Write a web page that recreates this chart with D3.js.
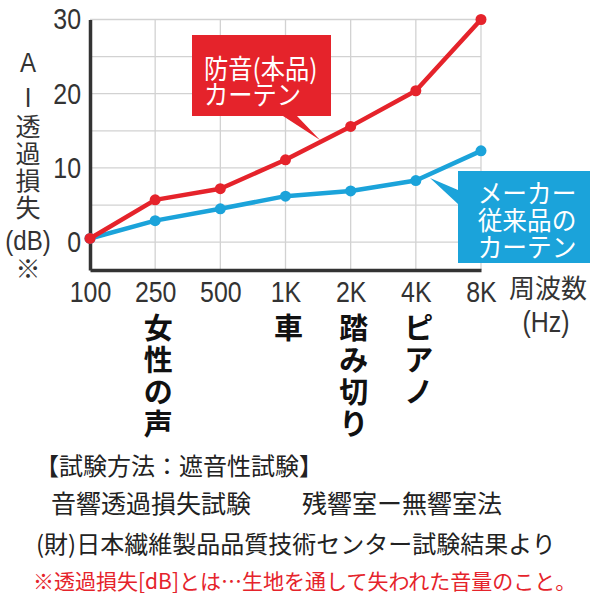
<!DOCTYPE html>
<html>
<head>
<meta charset="utf-8">
<script src="https://cdn.jsdelivr.net/npm/d3@7"></script>
<style>
  body { margin: 0; background: #fff; }
  svg { display: block; }
</style>
</head>
<body>
<svg id="chart" width="600" height="600"></svg>
<script>
// data
const freqs = ['100', '250', '500', '1K', '2K', '4K', '8K']
const ours = [0.5, 5.7, 7.2, 11.1, 15.6, 20.4, 30.0]        // 防音(本品)カーテン
const makers = [0.5, 2.9, 4.5, 6.2, 6.9, 8.3, 12.3]        // メーカー従来品のカーテン
const yTicks = [0, 10, 20, 30]
const gridTicks = [0, 5, 10, 15, 20, 25, 30]
const sounds = [
  { f: '250', label: '女性の声' },
  { f: '1K', label: '車' },
  { f: '2K', label: '踏み切り' },
  { f: '4K', label: 'ピアノ' }
]
const yLabel = ['A', 'I', '透', '過', '損', '失', '(dB)', '※']
const redLabel = ['防音(本品)', 'カーテン']
const blueLabel = ['メーカー', '従来品の', 'カーテン']

const red = '#e5232b'
const blue = '#1ba3da'
const numFont = '"Liberation Sans", Arial, sans-serif'
const jpFont = '"Noto Sans CJK JP", sans-serif'
const sx = 0.86   // the numbers are set in a narrow face

const svg = d3.select('#chart')

let x = d3.scalePoint().domain(freqs).range([90, 481])
let y = d3.scaleLinear().domain([-3.75, 30]).range([270, 19.5])

// grid
svg.append('g')
  .selectAll('line')
  .data(gridTicks)
  .join('line')
    .attr('x1', x('100')).attr('x2', x('8K'))
    .attr('y1', d => y(d)).attr('y2', d => y(d))
    .attr('stroke', '#d2d2d2').attr('stroke-width', 1.3)
svg.append('g')
  .selectAll('line')
  .data(freqs.slice(1))
  .join('line')
    .attr('x1', d => x(d)).attr('x2', d => x(d))
    .attr('y1', y(30)).attr('y2', y(-3.75))
    .attr('stroke', '#d2d2d2').attr('stroke-width', 1.3)

// axes
const xAxis = d3.axisBottom(x).tickSize(0).tickPadding(11)
const yAxis = d3.axisLeft(y).tickValues(yTicks).tickSize(0)

svg.append('g')
    .attr('transform', `translate(0,${y(-3.75)})`)
    .call(xAxis)
    .call(g => g.select('.domain').attr('stroke', '#333').attr('stroke-width', 3.5))
    .call(g => g.selectAll('text')
      .attr('transform', `scale(${sx},1)`)
      .attr('font-family', numFont).attr('font-size', 29).attr('fill', '#333'))

svg.append('g')
    .attr('transform', `translate(${x('100')},0)`)
    .call(yAxis)
    .call(g => g.select('.domain').attr('stroke', '#333').attr('stroke-width', 3.5))
    .call(g => g.selectAll('text')
      .attr('x', -9 / sx)
      .attr('transform', `scale(${sx},1)`)
      .attr('font-family', numFont).attr('font-size', 29).attr('fill', '#333'))

// y label, stacked vertically
const yLabelY = [62, 97, 125, 152, 179, 206, 240, 267]
svg.append('g')
  .selectAll('text')
  .data(yLabel)
  .join('text')
    .attr('transform', (d, i) => `translate(28,${yLabelY[i]}) scale(${i < 2 || i == 6 ? sx : 1},1)`)
    .attr('text-anchor', 'middle')
    .attr('dominant-baseline', 'central')
    .attr('font-family', (d, i) => i < 2 || i == 6 ? numFont : jpFont)
    .attr('font-size', (d, i) => i < 2 || i == 6 ? 28 : 25)
    .attr('fill', '#333')
    .text(d => d)

svg.append('text')
    .attr('x', 548).attr('y', 298)
    .attr('text-anchor', 'middle')
    .attr('font-family', jpFont).attr('font-size', 26).attr('fill', '#333')
    .text('周波数')
svg.append('text')
    .attr('transform', `translate(546,332) scale(${sx},1)`)
    .attr('text-anchor', 'middle')
    .attr('font-family', numFont).attr('font-size', 29).attr('fill', '#333')
    .text('(Hz)')

// callouts (drawn under the lines)
const redBox = svg.append('g')
redBox.append('path')
    .attr('d', 'M192,35 H331 V116 H297 L320,140 L283,116 H192 Z')
    .attr('fill', red)
redBox.selectAll('text')
  .data(redLabel)
  .join('text')
    .attr('transform', (d, i) => `translate(204,${79 + i * 26}) scale(0.9,1)`)
    .attr('font-family', jpFont).attr('font-size', 27).attr('fill', '#fff')
    .text(d => d)

const blueBox = svg.append('g')
blueBox.append('path')
    .attr('d', 'M458,171 H590 V263 H458 V204 L430,178 L458,190 Z')
    .attr('fill', blue)
blueBox.selectAll('text')
  .data(blueLabel)
  .join('text')
    .attr('transform', (d, i) => `translate(527,${203 + i * 27}) scale(0.95,1)`)
    .attr('text-anchor', 'middle')
    .attr('font-family', jpFont).attr('font-size', 26).attr('fill', '#fff')
    .text(d => d)

// lines
const line = d3.line().x((d, i) => x(freqs[i])).y(d => y(d))
const series = [{ v: makers, c: blue }, { v: ours, c: red }]
series.forEach(s => {
  svg.append('path')
      .attr('d', line(s.v))
      .attr('fill', 'none')
      .attr('stroke', s.c)
      .attr('stroke-width', 4.5)
      .attr('stroke-linejoin', 'round')
  svg.append('g')
    .selectAll('circle')
    .data(s.v)
    .join('circle')
      .attr('cx', (d, i) => x(freqs[i]))
      .attr('cy', d => y(d))
      .attr('r', 5.5)
      .attr('fill', s.c)
})

// sound examples under the axis
sounds.forEach(s => {
  svg.append('g')
    .selectAll('text')
    .data(Array.from(s.label))
    .join('text')
      .attr('x', x(s.f) + 3)
      .attr('y', (d, i) => 326 + i * 32)
      .attr('text-anchor', 'middle')
      .attr('dominant-baseline', 'central')
      .attr('font-family', jpFont).attr('font-weight', 'bold')
      .attr('font-size', 29).attr('fill', '#111')
      .text(d => d)
})

// notes under the chart
const notes = svg.append('g').attr('font-family', jpFont)
notes.append('text')
    .attr('x', 35).attr('y', 475)
    .attr('font-size', 24).attr('fill', '#222')
    .text('【試験方法：遮音性試験】')
const n2 = notes.append('text')
    .attr('y', 513)
    .attr('font-size', 25).attr('fill', '#222')
n2.append('tspan').attr('x', 51).text('音響透過損失試験　')
n2.append('tspan').attr('x', 302).text('残響室ー無響室法')
notes.append('text')
    .attr('x', 36).attr('y', 553)
    .attr('font-size', 24).attr('fill', '#222')
    .text('(財)日本繊維製品品質技術センター試験結果より')
notes.append('text')
    .attr('x', 33).attr('y', 589)
    .attr('font-size', 21).attr('fill', red)
    .text('※透過損失[dB]とは…生地を通して失われた音量のこと。')
</script>
</body>
</html>
